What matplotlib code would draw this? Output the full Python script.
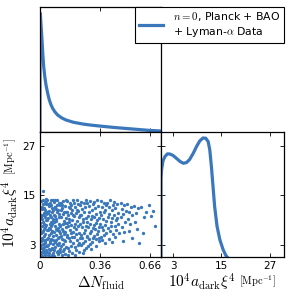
import matplotlib
matplotlib.use('Agg')
import matplotlib.pyplot as plt

plt.rcParams['mathtext.fontset'] = 'cm'

blue = '#3a78bb'

# 1D marginal of Delta N_fluid (relative height)
dn_grid = [0.0, 0.0, 0.002, 0.006, 0.012, 0.017, 0.022, 0.029, 0.036, 0.046, 0.056,
           0.066, 0.076, 0.09, 0.106, 0.13, 0.156, 0.2, 0.256, 0.3, 0.356, 0.4,
           0.456, 0.5, 0.556, 0.6, 0.656, 0.7, 0.726]
dn_pdf = [0.0, 0.95, 0.949, 0.86, 0.736, 0.62, 0.525, 0.44, 0.376, 0.31, 0.256,
          0.218, 0.189, 0.16, 0.136, 0.113, 0.096, 0.078, 0.064, 0.056, 0.048, 0.042,
          0.035, 0.03, 0.024, 0.019, 0.013, 0.01, 0.008]

# 1D marginal of 10^4 a_dark xi^4
a_grid = [0.0, 0.0, 0.15, 0.5, 1.0, 1.6, 2.2, 3.0, 3.8, 4.7, 5.5, 6.3, 7.1, 8.0,
          8.8, 9.6, 10.4, 11.1, 11.7, 12.1, 12.5, 12.9, 13.3, 13.9, 14.6, 15.4,
          16.1, 16.4]
a_pdf = [0.0, 0.63, 0.7, 0.77, 0.805, 0.825, 0.824, 0.812, 0.79, 0.765, 0.75,
         0.755, 0.78, 0.83, 0.883, 0.928, 0.952, 0.95, 0.923, 0.856, 0.723, 0.564,
         0.404, 0.245, 0.138, 0.059, 0.011, 0.0]

# 2D samples (Delta N_fluid, 10^4 a_dark xi^4)
samples = [
    (0.003, 13.6), (0.010, 12.1), (0.018, 13.9), (0.027, 11.4), (0.035, 12.8), (0.006, 10.3),
    (0.014, 9.1), (0.022, 10.7), (0.031, 9.8), (0.038, 10.9), (0.002, 8.2), (0.011, 7.4),
    (0.019, 8.6), (0.026, 6.9), (0.034, 7.7), (0.007, 5.8), (0.015, 6.3), (0.024, 5.1),
    (0.032, 5.6), (0.039, 4.4), (0.004, 3.9), (0.012, 4.7), (0.020, 3.2), (0.029, 3.7),
    (0.037, 2.6), (0.008, 2.1), (0.016, 1.4), (0.025, 2.4), (0.033, 1.2), (0.005, 0.6),
    (0.013, 0.3), (0.021, 0.9), (0.030, 0.5), (0.038, 1.7), (0.009, 11.7), (0.017, 12.9),
    (0.028, 13.3), (0.036, 14.0), (0.003, 9.6), (0.023, 8.0), (0.035, 8.9), (0.012, 6.1),
    (0.027, 4.1), (0.006, 3.0), (0.019, 2.0), (0.031, 3.3), (0.040, 6.6), (0.015, 10.2),
    (0.024, 11.9), (0.001, 6.8), (0.038, 13.1), (0.009, 1.1), (0.028, 7.3), (0.016, 4.0),
    (0.034, 10.4), (0.020, 16.1),
    (0.044, 13.7), (0.052, 12.4), (0.061, 13.2), (0.070, 11.8), (0.078, 13.9), (0.047, 10.6),
    (0.056, 11.2), (0.065, 9.7), (0.074, 10.8), (0.042, 8.9), (0.050, 9.4), (0.059, 8.1),
    (0.068, 7.5), (0.077, 8.7), (0.045, 6.6), (0.054, 7.0), (0.063, 5.9), (0.072, 6.4),
    (0.080, 5.2), (0.048, 4.6), (0.057, 3.8), (0.066, 4.3), (0.075, 3.1), (0.043, 2.7),
    (0.051, 2.0), (0.060, 1.6), (0.069, 2.3), (0.078, 1.0), (0.046, 0.4), (0.055, 0.9),
    (0.064, 0.2), (0.073, 1.9), (0.049, 12.9), (0.058, 10.1), (0.067, 12.6), (0.076, 9.2),
    (0.041, 11.0), (0.053, 5.4), (0.062, 3.4), (0.071, 7.9), (0.079, 4.0), (0.044, 1.3),
    (0.066, 13.8), (0.057, 6.8), (0.075, 11.5), (0.050, 3.0), (0.070, 0.6), (0.063, 8.5),
    (0.083, 13.4), (0.091, 12.0), (0.100, 13.8), (0.109, 11.3), (0.117, 12.7), (0.086, 10.2),
    (0.095, 9.3), (0.104, 10.8), (0.113, 9.6), (0.081, 8.4), (0.089, 7.6), (0.098, 8.8),
    (0.107, 7.1), (0.116, 8.0), (0.084, 6.0), (0.093, 5.3), (0.102, 6.5), (0.111, 4.9),
    (0.119, 5.8), (0.087, 3.6), (0.096, 4.2), (0.105, 2.9), (0.114, 3.5), (0.082, 1.8),
    (0.090, 2.5), (0.099, 1.1), (0.108, 0.7), (0.118, 2.0), (0.085, 0.3), (0.094, 11.6),
    (0.103, 12.5), (0.112, 13.2), (0.088, 9.9), (0.097, 6.9), (0.106, 4.5), (0.115, 10.4),
    (0.092, 13.9), (0.110, 1.5), (0.101, 3.2), (0.120, 7.4), (0.087, 12.2), (0.113, 6.2),
    (0.123, 13.1), (0.131, 11.9), (0.140, 13.6), (0.149, 12.3), (0.157, 11.0), (0.126, 9.8),
    (0.135, 10.5), (0.144, 8.7), (0.153, 9.4), (0.121, 7.7), (0.129, 6.8), (0.138, 7.9),
    (0.147, 6.1), (0.156, 7.2), (0.124, 5.0), (0.133, 4.3), (0.142, 5.5), (0.151, 3.9),
    (0.159, 4.8), (0.127, 2.6), (0.136, 3.1), (0.145, 1.9), (0.154, 2.4), (0.122, 1.2),
    (0.130, 0.5), (0.139, 1.4), (0.148, 0.8), (0.158, 13.8), (0.134, 12.7), (0.143, 10.9),
    (0.152, 8.2), (0.125, 11.5), (0.146, 4.0), (0.137, 6.4),
    (0.163, 13.5), (0.171, 12.2), (0.180, 13.0), (0.189, 11.4), (0.197, 13.7), (0.166, 10.1),
    (0.175, 9.2), (0.184, 10.7), (0.193, 8.9), (0.161, 8.3), (0.169, 7.4), (0.178, 6.6),
    (0.187, 7.8), (0.196, 6.0), (0.164, 5.3), (0.173, 4.6), (0.182, 3.8), (0.191, 4.9),
    (0.199, 3.3), (0.167, 2.2), (0.176, 1.5), (0.185, 2.7), (0.194, 0.9), (0.170, 0.4),
    (0.188, 12.6), (0.177, 11.8), (0.195, 10.3), (0.162, 11.0), (0.183, 5.9), (0.172, 8.6),
    (0.203, 13.2), (0.212, 12.0), (0.221, 13.8), (0.230, 11.2), (0.238, 12.5), (0.206, 9.9),
    (0.215, 10.6), (0.224, 8.8), (0.233, 9.6), (0.201, 7.3), (0.209, 8.1), (0.218, 6.7),
    (0.227, 7.5), (0.236, 5.9), (0.204, 4.8), (0.213, 5.6), (0.222, 4.1), (0.231, 3.4),
    (0.239, 4.5), (0.207, 2.5), (0.216, 1.7), (0.225, 2.9), (0.234, 1.1), (0.210, 0.6),
    (0.228, 12.9), (0.219, 11.4), (0.237, 10.2),
    (0.243, 13.4), (0.252, 11.7), (0.261, 13.0), (0.270, 12.2), (0.278, 13.9), (0.246, 10.3),
    (0.255, 9.1), (0.264, 10.8), (0.273, 9.5), (0.241, 8.0), (0.250, 7.2), (0.259, 8.4),
    (0.268, 6.5), (0.277, 7.6), (0.244, 5.4), (0.253, 4.6), (0.262, 5.8), (0.271, 3.9),
    (0.280, 4.9), (0.248, 2.8), (0.257, 3.5), (0.266, 1.8), (0.275, 2.3), (0.260, 0.9),
    (0.283, 13.1), (0.292, 12.4), (0.301, 13.6), (0.310, 11.5), (0.318, 12.8), (0.286, 10.0),
    (0.295, 10.9), (0.304, 9.2), (0.313, 9.9), (0.281, 8.6), (0.289, 7.3), (0.298, 7.9),
    (0.307, 6.4), (0.316, 7.1), (0.284, 5.2), (0.293, 4.4), (0.302, 5.7), (0.311, 3.6),
    (0.319, 4.7), (0.288, 2.6), (0.305, 2.0), (0.297, 3.1),
    (0.323, 13.3), (0.332, 11.8), (0.341, 13.9), (0.350, 12.3), (0.358, 11.0), (0.326, 9.7),
    (0.335, 10.4), (0.344, 8.9), (0.353, 9.5), (0.321, 7.8), (0.329, 6.9), (0.338, 8.2),
    (0.347, 6.2), (0.356, 7.3), (0.324, 5.1), (0.333, 4.3), (0.342, 5.6), (0.351, 3.8),
    (0.337, 2.7), (0.355, 4.6),
    (0.363, 13.6), (0.372, 12.1), (0.381, 13.0), (0.390, 11.3), (0.398, 12.6), (0.366, 10.2),
    (0.375, 9.3), (0.384, 10.8), (0.393, 8.7), (0.361, 8.1), (0.369, 7.2), (0.378, 6.5),
    (0.387, 7.7), (0.396, 5.9), (0.364, 4.9), (0.373, 4.1), (0.382, 5.4), (0.391, 3.5),
    (0.403, 13.2), (0.412, 12.0), (0.421, 13.7), (0.430, 11.4), (0.438, 12.7), (0.406, 9.8),
    (0.415, 10.5), (0.424, 8.6), (0.433, 9.4), (0.409, 7.1), (0.418, 6.3), (0.427, 7.6),
    (0.436, 5.5), (0.411, 4.4), (0.429, 3.7),
    (0.443, 13.4), (0.452, 11.9), (0.461, 12.8), (0.470, 10.6), (0.446, 10.1), (0.455, 8.9),
    (0.464, 9.5), (0.449, 7.4), (0.458, 6.6), (0.467, 7.9), (0.452, 4.9), (0.473, 5.7),
    (0.483, 13.0), (0.492, 11.6), (0.501, 12.5), (0.486, 9.7), (0.495, 10.4), (0.510, 8.6),
    (0.489, 7.2), (0.504, 6.1), (0.515, 11.2), (0.498, 3.9),
    (0.523, 12.9), (0.535, 11.0), (0.546, 12.2), (0.528, 9.3), (0.541, 8.1), (0.553, 10.1),
    (0.532, 6.4), (0.549, 4.6),
    (0.563, 12.4), (0.578, 10.7), (0.590, 11.8), (0.569, 8.4), (0.584, 6.9), (0.596, 3.4),
    (0.608, 12.2), (0.622, 9.6), (0.635, 11.0), (0.615, 5.8),
    (0.655, 12.6), (0.665, 9.9), (0.680, 11.2), (0.690, 7.6),
]
sample_dn = [s[0] for s in samples]
sample_a = [s[1] for s in samples]

dn_ticks = [0, 0.36, 0.66]
dn_ticklabels = ['0', '0.36', '0.66']
a_ticks = [3, 15, 27]
a_ticklabels = ['3', '15', '27']

dn_lim = (0, 0.726)
a_lim = (0, 30.3)

fig = plt.figure(figsize=(2.91, 2.96), dpi=100)
x0, w = 40 / 291, 121 / 291
x1, w1 = 161 / 291, 123 / 291
h = 125 / 296
ax_top = fig.add_axes([x0, 164 / 296, w, h])
ax_2d = fig.add_axes([x0, 39 / 296, w, h])
ax_a = fig.add_axes([x1, 39 / 296, w1, h])

for ax in (ax_top, ax_2d, ax_a):
    for sp in ax.spines.values():
        sp.set_linewidth(0.9)
    ax.tick_params(direction='in', top=True, right=True, length=3, width=0.6,
                   labelsize=7.5, pad=3)

# top-left: Delta N marginal
ax_top.plot(dn_grid, dn_pdf, color=blue, lw=2.3, solid_joinstyle='round',
            label='$n=0$, Planck + BAO\n+ Lyman-$\\alpha$ Data')
ax_top.set_xlim(dn_lim)
ax_top.set_ylim(0, 1)
ax_top.set_xticks(dn_ticks)
ax_top.set_xticklabels([])
ax_top.set_yticks([])

# bottom-left: 2D samples
ax_2d.plot(sample_dn, sample_a, 'o', color=blue, ms=2.4, mew=0)
ax_2d.set_xlim(dn_lim)
ax_2d.set_ylim(a_lim)
ax_2d.set_xticks(dn_ticks)
ax_2d.set_xticklabels(dn_ticklabels)
ax_2d.set_yticks(a_ticks)
ax_2d.set_yticklabels(a_ticklabels)
ax_2d.set_xlabel('$\\Delta N_{\\rm fluid}$', fontsize=11, labelpad=2)

# bottom-right: a_dark marginal
ax_a.plot(a_grid, a_pdf, color=blue, lw=2.3, solid_joinstyle='round')
ax_a.set_xlim(a_lim[0], 30.5)
ax_a.set_ylim(0, 1)
ax_a.set_xticks(a_ticks)
ax_a.set_xticklabels(a_ticklabels)
ax_a.set_yticks([t / a_lim[1] for t in a_ticks])
ax_a.set_yticklabels([])

# axis labels built from a main part and smaller units
fig.text(10 / 291, 1 - 214 / 296, '$10^4a_{\\rm dark}\\xi^4$', fontsize=11,
         rotation=90, ha='center', va='center')
fig.text(11 / 291, 1 - 157 / 296, '$[{\\rm Mpc}^{-1}]$', fontsize=7.5,
         rotation=90, ha='center', va='center')
fig.text(202 / 291, 1 - 282 / 296, '$10^4a_{\\rm dark}\\xi^4$', fontsize=11,
         ha='center', va='center')
fig.text(257 / 291, 1 - 282 / 296, '$[{\\rm Mpc}^{-1}]$', fontsize=7.5,
         ha='center', va='center')

leg = fig.legend(loc='upper right', bbox_to_anchor=(284 / 291, 1 - 7 / 296),
                 borderaxespad=0, fontsize=7.8, fancybox=False, framealpha=1,
                 handlelength=2.2, handletextpad=1.0, borderpad=0.3,
                 labelspacing=0.1)
leg.get_frame().set_edgecolor('black')
leg.get_frame().set_linewidth(0.8)

fig.savefig('out.png', dpi=100)
